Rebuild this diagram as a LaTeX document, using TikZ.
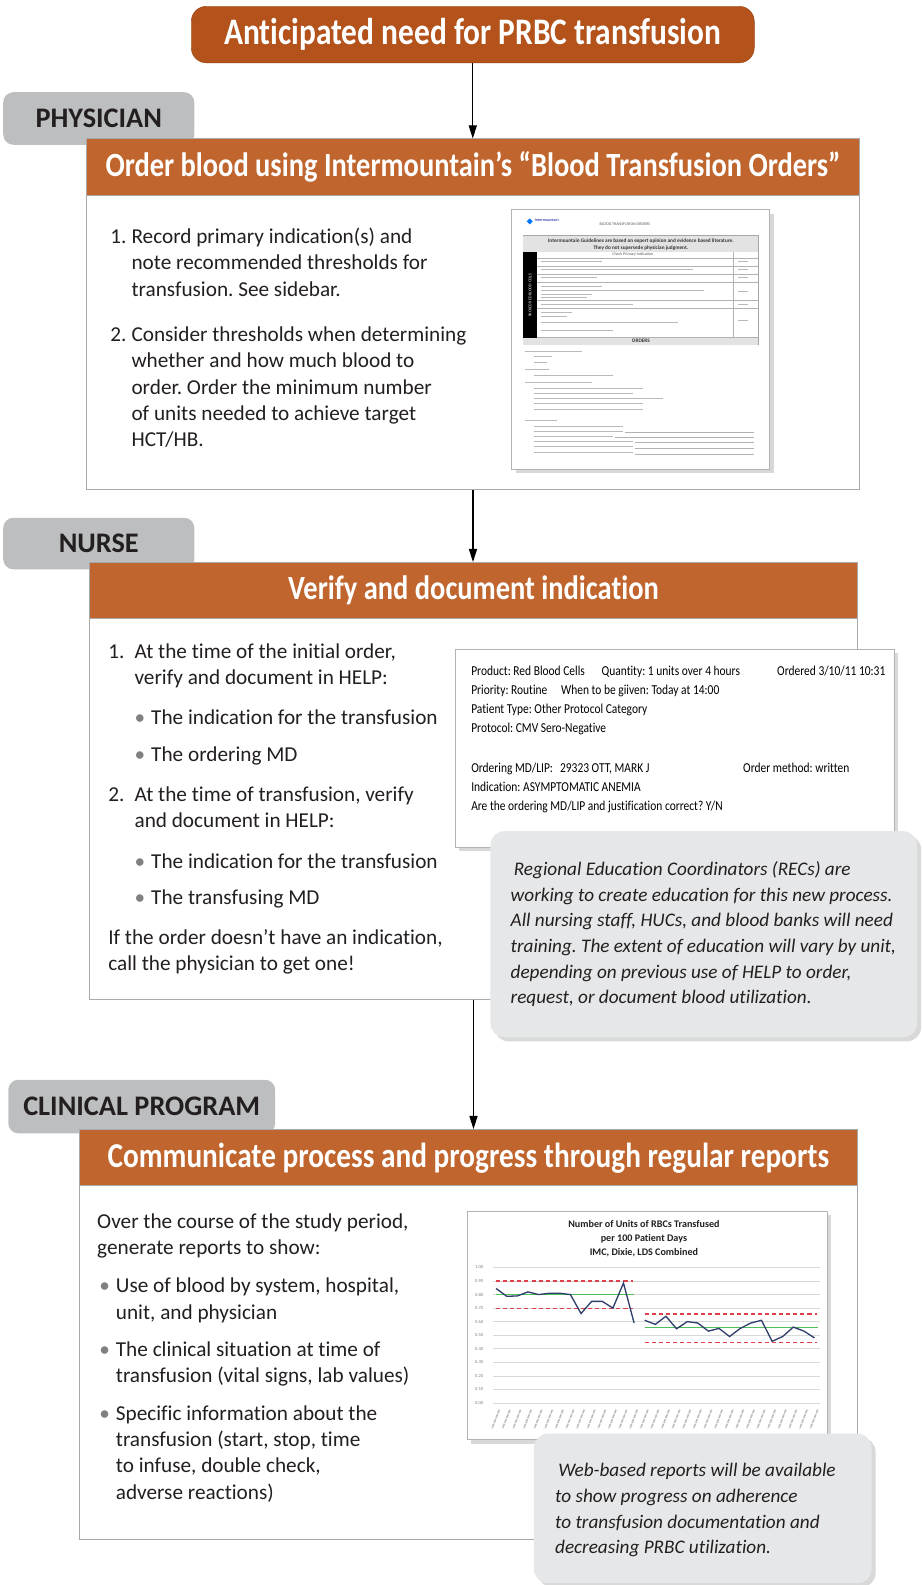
\documentclass[tikz,border=0pt]{standalone}
\usepackage{fontspec}
\setmainfont[Ligatures=NoCommon]{Carlito}
\newfontfamily\condfont[FakeStretch=0.84, Ligatures=NoCommon]{Carlito}
\usetikzlibrary{arrows.meta,shadows}
\frenchspacing

\definecolor{rustdark}{HTML}{B3521A}
\definecolor{rust}{HTML}{C0652D}
\definecolor{tabgray}{HTML}{BCBEC0}
\definecolor{notegray}{HTML}{E6E7E8}
\definecolor{ink}{HTML}{231F20}
\definecolor{rulegray}{HTML}{A7A9AC}
\definecolor{lineblue}{HTML}{2F3D6B}
\definecolor{meangreen}{HTML}{4DBE5A}
\definecolor{limitred}{HTML}{E0404A}

\newcommand{\bul}{\textcolor{gray}{•}}

\tikzset{
  rolebox/.style={fill=tabgray, rounded corners=10pt, anchor=north west, inner sep=0pt,
    text=ink, font=\bfseries\fontsize{28}{28}\selectfont},
  headbar/.style={fill=rust, draw=rulegray, line width=0.8pt, anchor=north west, inner sep=0pt,
    minimum height=56pt, text=white, font=\condfont\bfseries\fontsize{33.5}{33.5}\selectfont},
  stepbody/.style={fill=white, draw=rulegray, line width=0.8pt, anchor=north west, inner sep=0pt},
  bodytext/.style={anchor=base west, inner sep=0pt, text=ink, font=\fontsize{21}{26}\selectfont},
  notetext/.style={anchor=base west, inner sep=0pt, text=ink, font=\itshape\fontsize{19}{25.4}\selectfont},
  notebox/.style={fill=notegray, rounded corners=14pt, anchor=north west, inner sep=0pt,
    drop shadow={shadow xshift=4pt, shadow yshift=-4pt, opacity=0.3}},
  picframe/.style={fill=white, draw=gray!60, line width=0.6pt, anchor=north west, inner sep=0pt,
    drop shadow={shadow xshift=4pt, shadow yshift=-4pt, opacity=0.3}},
  flow/.style={line width=1.1pt, -{Triangle[length=13pt, width=8pt]}},
  helptext/.style={anchor=base west, inner sep=0pt, text=black, font=\condfont\fontsize{13.5}{19}\selectfont},
  textbar/.style={line width=1pt, gray!55},
  formtiny/.style={inner sep=0pt, font=\fontsize{4}{4}\selectfont, text=gray!70!black},
  formbold/.style={inner sep=0pt, font=\bfseries\fontsize{5.2}{5.2}\selectfont, text=black!80},
  ticklabel/.style={inner sep=0pt, anchor=east, font=\fontsize{4.5}{4.5}\selectfont, text=gray},
}

\begin{document}
\begin{tikzpicture}[x=1pt,y=-1pt]
  \useasboundingbox (0,0) rectangle (913,1568);

  % start
  \node[fill=rustdark, draw=rustdark!85!black, rounded corners=15pt, anchor=north west,
    minimum width=557pt, minimum height=56pt, inner sep=0pt, text=white,
    font=\condfont\bfseries\fontsize{37}{37}\selectfont] (need) at (189,6)
    {Anticipated need for PRBC transfusion};

  % physician
  \node[rolebox, minimum width=189pt, minimum height=52pt] (physician) at (3,91) {PHYSICIAN};
  \node[headbar, minimum width=765pt] (phyhead) at (85,137)
    {Order blood using Intermountain’s “Blood Transfusion Orders”};
  \node[stepbody, minimum width=765pt, minimum height=291pt] (phybody) at (85,193) {};
  \node[bodytext] (phylist) at (109,241) {\begin{tabular}[t]{@{}l@{\hspace{5pt}}l@{}}
    1. & Record primary indication(s) and\\
       & note recommended thresholds for\\
       & transfusion. See sidebar.\\[19pt]
    2. & Consider thresholds when determining\\
       & whether and how much blood to\\
       & order. Order the minimum number\\
       & of units needed to achieve target\\
       & HCT/HB.
  \end{tabular}};

  % order form picture
  \node[picframe, minimum width=255pt, minimum height=257pt] (orderform) at (506,207) {};
  \begin{scope}[shift={(506,207)}]
    \fill[blue!55!cyan] (18,9) -- (21,12) -- (18,15) -- (15,12) -- cycle;
    \node[formtiny, text=blue!60!black, anchor=west] (logo) at (23,11) {Intermountain};
    \node[formtiny, anchor=west] (formname) at (87,15) {BLOOD TRANSFUSION ORDERS};
    \draw[gray!70, line width=0.4pt] (11.5,26) rectangle (244,134);
    \fill[gray!22] (11.5,26) rectangle (244,42);
    \node[formbold] (guide1) at (128,31)
      {Intermountain Guidelines are based on expert opinion and evidence based literature.};
    \node[formbold] (guide2) at (128,38) {They do not supersede physician judgment.};
    \fill[black] (11.5,42) rectangle (25.5,127);
    \node[formtiny, text=white, rotate=90] (rbc) at (18.5,85) {PACKED RED BLOOD CELLS};
    \node[formtiny] (check) at (120,45) {Check Primary Indication};
    \foreach \y in {48,56,64,72,90,98,127}
      \draw[gray!60, line width=0.4pt] (25.5,\y) -- (244,\y);
    \draw[gray!60, line width=0.4pt] (219,42) -- (219,127);
    \foreach \a/\b/\y in {29/90/52, 29/180/60, 29/85/68, 29/90/76, 29/190/80, 29/80/84,
        29/75/87, 29/120/94, 29/60/102, 29/55/106, 29/165/112, 29/100/120,
        224/234/52, 224/234/60, 224/234/68, 224/234/81, 224/234/94, 224/234/110}
      \draw[textbar] (\a,\y) -- (\b,\y);
    \fill[gray!22] (11.5,127) rectangle (244,134);
    \node[formbold] (orders) at (128,130.5) {ORDERS};
    \foreach \a/\b/\y in {13/70/141, 22/40/146, 22/35/151.5, 13/37/159, 22/100/164,
        13/80/171.6, 22/130/177.6, 22/120/182, 22/150/187, 22/130/192, 22/130/198,
        13/45/208.6, 22/110/214.5, 22/110/219.5, 22/100/224.5, 22/120/229.5,
        22/120/235, 22/120/241}
      \draw[textbar] (\a,\y) -- (\b,\y);
    \foreach \a/\y in {110/219.5, 100/224.5, 120/229.5, 120/235, 120/241}
      \draw[gray!60, line width=0.4pt] (\a+2,\y+1) -- (240,\y+1);
  \end{scope}

  % nurse
  \node[rolebox, minimum width=189pt, minimum height=51pt] (nurse) at (3,512) {NURSE};
  \node[headbar, minimum width=760pt] (nursehead) at (88,556) {Verify and document indication};
  \node[stepbody, minimum width=760pt, minimum height=377pt] (nursebody) at (88,611) {};
  \node[bodytext] (nurselist) at (107,651) {\begin{tabular}[t]{@{}l@{\hspace{10pt}}l@{\hspace{6pt}}l@{}}
    1. & \multicolumn{2}{@{}l@{}}{At the time of the initial order,}\\
       & \multicolumn{2}{@{}l@{}}{verify and document in HELP:}\\[14pt]
       & \bul & The indication for the transfusion\\[10pt]
       & \bul & The ordering MD\\[14pt]
    2. & \multicolumn{2}{@{}l@{}}{At the time of transfusion, verify}\\
       & \multicolumn{2}{@{}l@{}}{and document in HELP:}\\[14pt]
       & \bul & The indication for the transfusion\\[10pt]
       & \bul & The transfusing MD\\[13pt]
    \multicolumn{3}{@{}l@{}}{If the order doesn’t have an indication,}\\
    \multicolumn{3}{@{}l@{}}{call the physician to get one!}
  \end{tabular}};

  % HELP order screen
  \node[picframe, minimum width=434pt, minimum height=196pt] (helpscreen) at (450,642) {};
  \node[helptext] (helpfields) at (466,668) {\begin{tabular}[t]{@{}l@{}}
    \makebox[129pt][l]{Product: Red Blood Cells}Quantity: 1 units over 4 hours\\
    \makebox[89pt][l]{Priority: Routine}When to be giiven: Today at 14:00\\
    Patient Type: Other Protocol Category\\
    Protocol: CMV Sero-Negative\\[20pt]
    Ordering MD/LIP:\hspace{7pt}29323 OTT, MARK J\\
    Indication: ASYMPTOMATIC ANEMIA\\
    Are the ordering MD/LIP and justification correct? Y/N
  \end{tabular}};
  \node[helptext, anchor=base east] (helpdate) at (876,668) {Ordered 3/10/11 10:31};
  \node[helptext] (helpmethod) at (735,764) {Order method: written};

  % note on education
  \node[notebox, minimum width=422pt, minimum height=204pt] (recnote) at (485,822) {};
  \node[notetext] (rectext) at (505,866) {\begin{tabular}[t]{@{}l@{}}
    \,Regional Education Coordinators (RECs) are\\
    working to create education for this new process.\\
    All nursing staff, HUCs, and blood banks will need\\
    training. The extent of education will vary by unit,\\
    depending on previous use of HELP to order,\\
    request, or document blood utilization.
  \end{tabular}};

  % clinical program
  \node[rolebox, minimum width=264pt, minimum height=53pt] (clinical) at (8,1068) {CLINICAL PROGRAM};
  \node[headbar, minimum width=770pt, font=\condfont\bfseries\fontsize{34.5}{34.5}\selectfont]
    (clinhead) at (78,1117) {Communicate process and progress through regular reports};
  \node[stepbody, minimum width=770pt, minimum height=350pt] (clinbody) at (78,1172) {};
  \node[bodytext] (clinlist) at (96,1215) {\begin{tabular}[t]{@{\hspace{2pt}}l@{\hspace{6pt}}l@{}}
    \multicolumn{2}{@{}l@{}}{Over the course of the study period,}\\
    \multicolumn{2}{@{}l@{}}{generate reports to show:}\\[12pt]
    \bul & Use of blood by system, hospital,\\
         & unit, and physician\\[11pt]
    \bul & The clinical situation at time of\\
         & transfusion (vital signs, lab values)\\[11pt]
    \bul & Specific information about the\\
         & transfusion (start, stop, time\\
         & to infuse, double check,\\
         & adverse reactions)
  \end{tabular}};

  % chart of units transfused
  \node[picframe, minimum width=356pt, minimum height=226pt] (chart) at (462,1198) {};
  \node[inner sep=0pt, anchor=north, align=center, text=ink,
    font=\bfseries\fontsize{10}{14}\selectfont] (charttitle) at (637,1207)
    {Number of Units of RBCs Transfused\\per 100 Patient Days\\IMC, Dixie, LDS Combined};
  \begin{scope}[shift={(490.8,1387.8)}, x=10.5pt, y=133.9pt]
    \foreach \v/\t in {0/0.00, 1/0.10, 2/0.20, 3/0.30, 4/0.40, 5/0.50, 6/0.60, 7/0.70,
        8/0.80, 9/0.90, 10/1.00} {
      \draw[gray!30, line width=0.5pt] (-0.27,\v/10) -- (30.5,\v/10);
      \node[ticklabel] at (-1.2,\v/10) {\t};
    }
    \foreach \i in {0,...,30}
      \draw[gray!50, line width=1.6pt, dash pattern=on 4pt off 1pt] (\i+0.3,-0.05) -- (\i-0.4,-0.19);
    \draw[limitred, line width=1.2pt, dash pattern=on 4pt off 3pt] (0,0.9) -- (12.9,0.9);
    \draw[limitred, line width=1.2pt, dash pattern=on 4pt off 3pt] (0,0.7) -- (12.9,0.7);
    \draw[limitred, line width=1.2pt, dash pattern=on 4pt off 3pt] (14,0.656) -- (30.2,0.656);
    \draw[limitred, line width=1.2pt, dash pattern=on 4pt off 3pt] (14,0.448) -- (30.2,0.448);
    \draw[meangreen, line width=1.2pt] (0,0.8) -- (13,0.8);
    \draw[meangreen, line width=1.2pt] (14,0.555) -- (30.3,0.555);
    \draw[lineblue, line width=1.3pt] plot coordinates {(0,.845) (1,.787) (2,.79) (3,.82)
      (4,.80) (5,.81) (6,.81) (7,.80) (8,.66) (9,.75) (10,.75) (11,.70) (12,.885) (13,.59)};
    \draw[lineblue, line width=1.3pt] plot coordinates {(14,.61) (15,.58) (16,.64) (17,.547)
      (18,.60) (19,.59) (20,.53) (21,.55) (22,.49) (23,.55) (24,.59) (25,.61) (26,.455)
      (27,.49) (28,.56) (29,.53) (30,.48)};
  \end{scope}

  % note on reports
  \node[notebox, minimum width=334pt, minimum height=148pt] (webnote) at (528,1418) {};
  \node[notetext] (webtext) at (549,1461) {\begin{tabular}[t]{@{}l@{}}
    \,Web-based reports will be available\\
    to show progress on adherence\\
    to transfusion documentation and\\
    decreasing PRBC utilization.
  \end{tabular}};

  % connectors
  \draw[flow] (need.south) -- (need.south |- phyhead.north);
  \draw[flow] (phybody.south) -- (phybody.south |- nursehead.north);
  \draw[flow] (nursebody.south) -- (nursebody.south |- clinhead.north);
\end{tikzpicture}
\end{document}
